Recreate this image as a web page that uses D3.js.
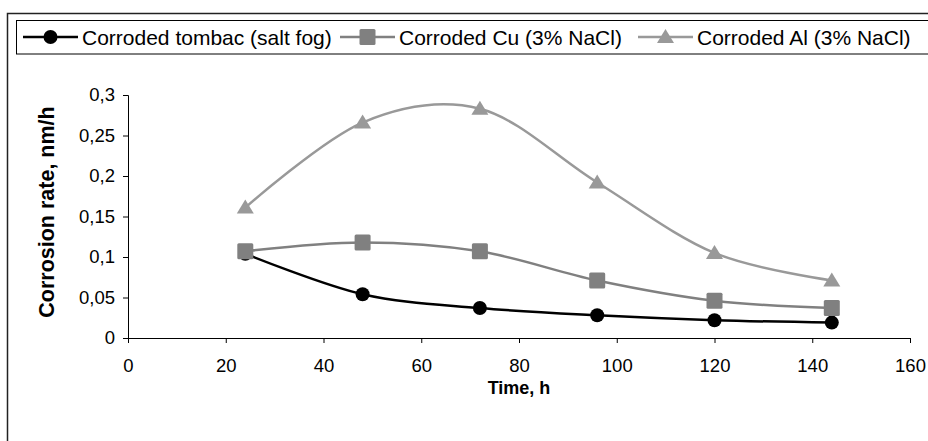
<!doctype html>
<html>
<head>
<meta charset="utf-8">
<script src="https://d3js.org/d3.v7.min.js"></script>
<style>
 body { margin: 0; background: #fff; }
 text { font-family: "Liberation Sans", Arial, sans-serif; }
</style>
</head>
<body>
<script>
// data
var hours = [24, 48, 72, 96, 120, 144];
var tombac = [0.104, 0.054, 0.037, 0.028, 0.022, 0.019];
var copper = [0.107, 0.118, 0.107, 0.071, 0.046, 0.037];
var alum = [0.161, 0.266, 0.283, 0.192, 0.105, 0.071];
var seriesNames = ["Corroded tombac (salt fog)", "Corroded Cu (3% NaCl)", "Corroded Al (3% NaCl)"];
var xTicks = [0, 20, 40, 60, 80, 100, 120, 140, 160];
var yTicks = [0, 0.05, 0.1, 0.15, 0.2, 0.25, 0.3];

var W = 928, H = 441;
var svg = d3.select("body").append("svg")
  .attr("width", W)
  .attr("height", H);

var x = d3.scaleLinear().domain([0, 160]).range([128, 910]);
var y = d3.scaleLinear().domain([0, 0.3]).range([338, 95]);

// outer chart frame (cut off at right/bottom)
svg.append("rect")
  .attr("x", 7.5).attr("y", 13.5)
  .attr("width", 960).attr("height", 460)
  .attr("fill", "none")
  .attr("stroke", "#222")
  .attr("stroke-width", 1.5);

// legend frame
svg.append("rect")
  .attr("x", 16.5).attr("y", 20.5)
  .attr("width", 960).attr("height", 33.5)
  .attr("fill", "white")
  .attr("stroke", "black");

// axes
var fmt = function(d) { return String(d).replace(".", ","); };

svg.append("g")
  .attr("transform", "translate(" + x(0) + ",0)")
  .call(d3.axisLeft(y).tickValues(yTicks).tickFormat(fmt).tickSize(5).tickPadding(8));
svg.append("g")
  .attr("transform", "translate(0," + y(0) + ")")
  .call(d3.axisBottom(x).tickValues(xTicks).tickFormat(d3.format("d")).tickSize(5).tickPadding(16));

svg.selectAll(".domain").attr("stroke", "black");
svg.selectAll(".tick line").attr("stroke", "black");
svg.selectAll(".tick text")
  .attr("font-family", "Liberation Sans, Arial, sans-serif")
  .attr("font-size", 18.5)
  .attr("fill", "black");

// axis titles
svg.append("text")
  .attr("x", 519)
  .attr("y", 394)
  .attr("text-anchor", "middle")
  .attr("font-size", 18)
  .attr("font-weight", "bold")
  .text("Time, h");

svg.append("text")
  .attr("transform", "translate(54," + 212 + ") rotate(-90)")
  .attr("text-anchor", "middle")
  .attr("font-size", 21.5)
  .attr("font-weight", "bold")
  .text("Corrosion rate, nm/h");

// series
var series = [
  { name: seriesNames[0], vals: tombac, color: "black", fill: "black", shape: "circle" },
  { name: seriesNames[1], vals: copper, color: "#808080", fill: "#808080", shape: "square" },
  { name: seriesNames[2], vals: alum, color: "#999999", fill: "#999999", shape: "triangle" }
];

var line = d3.line()
  .x(function(d) { return x(d[0]); })
  .y(function(d) { return y(d[1]); })
  .curve(d3.curveCardinal.tension(0));

function marker(sel, shape, fill) {
  if (shape == "circle") {
    sel.append("circle").attr("r", 7).attr("fill", fill);
  } else if (shape == "square") {
    sel.append("rect").attr("x", -8).attr("y", -8).attr("width", 16).attr("height", 16)
      .attr("rx", 1.5).attr("fill", fill);
  } else {
    sel.append("path").attr("d", "M0,-8L8.5,6L-8.5,6Z").attr("fill", fill);
  }
}

// Al first, then tombac, Cu last (Cu square sits over the tombac circle at 24 h)
var drawOrder = [2, 0, 1];
drawOrder.forEach(function(i) {
  var s = series[i];
  var pts = hours.map(function(h, k) { return [h, s.vals[k]]; });
  svg.append("path")
    .attr("d", line(pts))
    .attr("fill", "none")
    .attr("stroke", s.color)
    .attr("stroke-width", 2.5);
  pts.forEach(function(p) {
    var g = svg.append("g").attr("transform", "translate(" + x(p[0]) + "," + y(p[1]) + ")");
    marker(g, s.shape, s.fill);
  });
});

// legend
var legX = [23, 340, 638];
series.forEach(function(s, i) {
  var g = svg.append("g").attr("transform", "translate(" + legX[i] + ",37)");
  g.append("line")
    .attr("x1", 0).attr("x2", 55)
    .attr("stroke", s.color).attr("stroke-width", 2.5);
  var m = g.append("g").attr("transform", "translate(27.5,0)");
  marker(m, s.shape, s.fill);
  g.append("text")
    .attr("x", 59).attr("y", 7.5)
    .attr("font-size", 21)
    .text(s.name);
});
</script>
</body>
</html>
